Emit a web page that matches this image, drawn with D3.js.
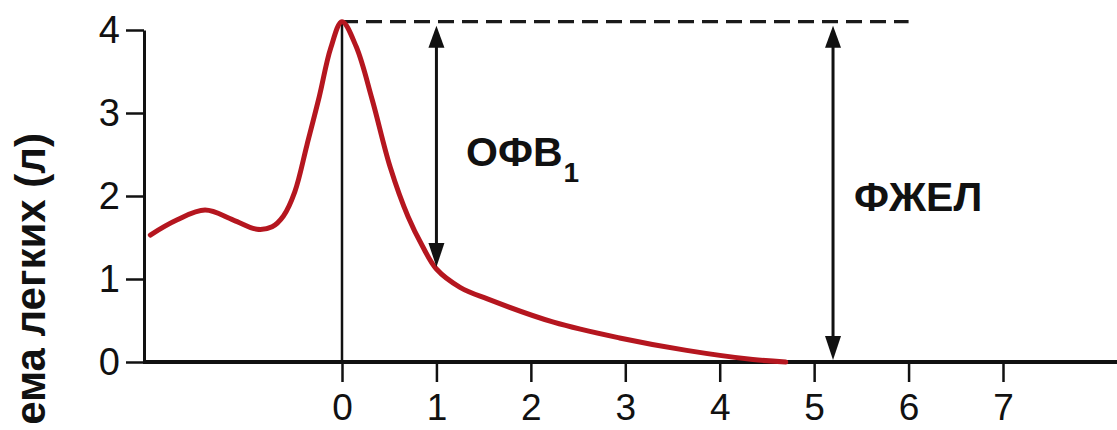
<!DOCTYPE html>
<html>
<head>
<meta charset="utf-8">
<script src="https://cdn.jsdelivr.net/npm/d3@7"></script>
<style>
  html, body { margin: 0; padding: 0; background: #fff; }
  svg { display: block; }
  text { font-family: "Liberation Sans", Arial, Helvetica, sans-serif; fill: #111; }
</style>
</head>
<body>
<script>
// Forced expiration: lung volume (L) against time (s)
const timeS   = [-2.03, -1.75, -1.45, -1.15, -0.9, -0.74, -0.62, -0.5, -0.37, -0.24, -0.12, 0.0, 0.15, 0.32, 0.51, 0.7, 0.85, 1.0, 1.25, 1.54, 2.24, 2.94, 3.65, 4.35, 4.7];
const volumeL = [ 1.53,  1.71,  1.83,  1.71, 1.60,  1.63,  1.76, 2.05, 2.62,  3.2,   3.78, 4.1, 3.8,  3.16, 2.35, 1.75, 1.4, 1.12, 0.9, 0.76, 0.48, 0.29, 0.14, 0.03, 0.0];

const xTicks = [0, 1, 2, 3, 4, 5, 6, 7];
const yTicks = [0, 1, 2, 3, 4];

const peakVolume = 4.1;     // top of the dashed reference line
const fev1Time = 1;         // ОФВ1 measured at 1 s
const fev1Volume = 1.12;    // curve value at 1 s
const fvcTime = 5.2;        // position of the ФЖЕЛ arrow
const dashEnd = 6;

const W = 1117, H = 430;
const svg = d3.select("body").append("svg").attr("width", W).attr("height", H);

const x = d3.scaleLinear().domain([0, 7]).range([342, 1003]);
const y = d3.scaleLinear().domain([0, 4]).range([362, 30]);
const axisLeftX = 144;
const fmt = d3.format("d");

// y axis
const yAxis = d3.axisLeft(y).tickValues(yTicks).tickFormat(fmt)
  .tickSize(18).tickSizeOuter(0).tickPadding(6);
const gy = svg.append("g").attr("transform", `translate(${axisLeftX},0)`).call(yAxis);
gy.select(".domain").attr("stroke", "#111").attr("stroke-width", 3);
gy.selectAll(".tick line").attr("stroke", "#111").attr("stroke-width", 2.5);
gy.selectAll(".tick text").attr("font-size", 38).attr("fill", "#111")
  .attr("font-family", "'Liberation Sans', Arial, sans-serif");

// x axis
const xAxis = d3.axisBottom(x).tickValues(xTicks).tickFormat(fmt)
  .tickSize(20).tickSizeOuter(0).tickPadding(12);
const gx = svg.append("g").attr("transform", `translate(0,${y(0)})`).call(xAxis);
gx.select(".domain").remove();
gx.selectAll(".tick line").attr("stroke", "#111").attr("stroke-width", 2.5);
gx.selectAll(".tick text").attr("font-size", 37).attr("fill", "#111")
  .attr("font-family", "'Liberation Sans', Arial, sans-serif");
svg.append("line")
  .attr("x1", axisLeftX - 1).attr("x2", W)
  .attr("y1", y(0)).attr("y2", y(0))
  .attr("stroke", "#111").attr("stroke-width", 4);

// vertical guide at t = 0
svg.append("line")
  .attr("x1", x(0)).attr("x2", x(0))
  .attr("y1", y(peakVolume)).attr("y2", y(0))
  .attr("stroke", "#111").attr("stroke-width", 2.5);

// dashed line at peak volume
svg.append("line")
  .attr("x1", x(0)).attr("x2", x(dashEnd))
  .attr("y1", y(peakVolume)).attr("y2", y(peakVolume))
  .attr("stroke", "#1a1a1a").attr("stroke-width", 3.2)
  .attr("stroke-dasharray", "16,8");

// the volume curve
const pts = timeS.map((t, i) => [t, volumeL[i]]);
const line = d3.line().x(d => x(d[0])).y(d => y(d[1])).curve(d3.curveCatmullRom.alpha(0.5));
svg.append("path").datum(pts)
  .attr("d", line)
  .attr("fill", "none")
  .attr("stroke", "#b5161f")
  .attr("stroke-width", 5)
  .attr("stroke-linecap", "round");

// double-headed arrows
function arrow(t, v0, v1) {
  const xp = x(t), yTop = y(v1), yBot = y(v0);
  const hw = 8, hl = 26;
  svg.append("line").attr("x1", xp).attr("x2", xp)
    .attr("y1", yTop + hl - 2).attr("y2", yBot - hl + 2)
    .attr("stroke", "#111").attr("stroke-width", 3);
  svg.append("path")
    .attr("d", `M${xp},${yTop + 4}L${xp - hw},${yTop + hl}L${xp + hw},${yTop + hl}Z`)
    .attr("fill", "#111");
  svg.append("path")
    .attr("d", `M${xp},${yBot - 2}L${xp - hw},${yBot - hl}L${xp + hw},${yBot - hl}Z`)
    .attr("fill", "#111");
}
arrow(fev1Time, fev1Volume, peakVolume);
arrow(fvcTime, 0, peakVolume);

// labels
const fev = svg.append("text")
  .attr("x", 466).attr("y", 166)
  .attr("font-size", 41).attr("font-weight", "bold");
fev.append("tspan").text("ОФВ");
fev.append("tspan").text("1").attr("font-size", 28).attr("dy", 16).attr("dx", 1);

svg.append("text")
  .attr("x", 854).attr("y", 211)
  .attr("font-size", 41).attr("font-weight", "bold")
  .text("ФЖЕЛ");

// y axis title
svg.append("text")
  .attr("transform", `translate(45,133) rotate(-90)`)
  .attr("text-anchor", "end")
  .attr("font-size", 42).attr("font-weight", "bold")
  .text("ема легких (л)");
</script>
</body>
</html>
